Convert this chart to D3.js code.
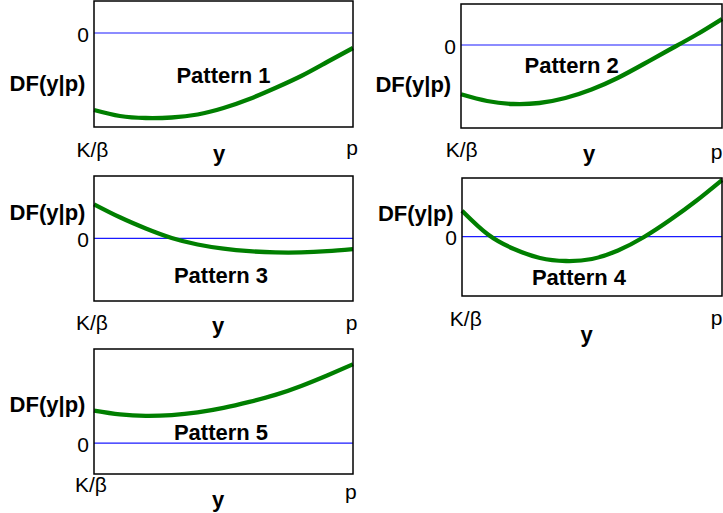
<!DOCTYPE html>
<html>
<head>
<meta charset="utf-8">
<script src="https://cdn.jsdelivr.net/npm/d3@7"></script>
<style>
  html, body { margin: 0; padding: 0; background: #fff; }
  svg { display: block; }
  text { font-family: "Liberation Sans", Arial, Helvetica, sans-serif; fill: #000; }
</style>
</head>
<body>
<svg id="chart" width="723" height="513"></svg>
<script>
// Positions along y, from K/β (0) to p (1)
const yGrid = [0, 0.1, 0.2, 0.3, 0.4, 0.5, 0.6, 0.7, 0.8, 0.9, 1.0];

// DF(y|p) for each pattern, sampled on yGrid (arbitrary units, 0 = blue reference line)
const pattern1 = [-7.7, -8.3, -8.5, -8.45, -8.15, -7.5, -6.6, -5.5, -4.3, -2.9, -1.5];
const pattern2 = [-4.93, -5.6, -5.9, -5.8, -5.3, -4.45, -3.3, -1.9, -0.45, 1.0, 2.6];
const pattern3 = [3.4, 2.1, 0.98, 0.03, -0.62, -1.04, -1.29, -1.41, -1.41, -1.29, -1.09];
const pattern4 = [2.6, 0.22, -1.23, -2.13, -2.43, -2.23, -1.38, -0.03, 1.67, 3.57, 5.67];
const pattern5 = [3.26, 2.88, 2.73, 2.81, 3.08, 3.53, 4.13, 4.83, 5.73, 6.78, 7.9];

// Vertical extent of DF shown in each panel [bottom, top]
const dfExtents = [[-9.4, 3.2], [-8.3, 4.1], [-6.27, 6.23], [-5.93, 5.87], [-3.1, 9.43]];

const patternNames = ["Pattern 1", "Pattern 2", "Pattern 3", "Pattern 4", "Pattern 5"];
const xTickLabels = ["K/β", "p"];
const zeroTick = "0";
const yAxisTitle = "DF(y|p)";
const xAxisTitle = "y";

const series = [pattern1, pattern2, pattern3, pattern4, pattern5];

// Panel layout: plot box and label anchor points
const panels = [
  { box: [94, 1, 353, 127],   df: [47.5, 91],  zero: [89, 41.5],   name: [223.5, 83],  kb: [92.5, 157], xt: [219, 161], p: [352, 155] },
  { box: [461, 4, 722, 128],  df: [413.3, 92], zero: [456, 54],  name: [571.7, 73],  kb: [461.7, 157], xt: [589, 161], p: [716.5, 159] },
  { box: [94, 176, 353, 301], df: [47.5, 220], zero: [89, 247],  name: [221, 283],   kb: [92, 330],   xt: [218, 333], p: [351.7, 330] },
  { box: [462, 178, 722, 296],df: [415.8, 221],zero: [457, 245], name: [579, 285],   kb: [465.8, 325.5], xt: [586.7, 342], p: [716.5, 325] },
  { box: [94, 349, 353, 474], df: [47.5, 411.5], zero: [89, 451.5], name: [221, 440], kb: [91, 491.5], xt: [218, 507], p: [350.8, 499] }
];

const svg = d3.select("#chart");

panels.forEach((pan, i) => {
  const [x0, y0, x1, y1] = pan.box;
  const x = d3.scaleLinear().domain([0, 1]).range([x0, x1]);
  const y = d3.scaleLinear().domain(dfExtents[i]).range([y1, y0]);
  const g = svg.append("g");

  // zero reference line
  g.append("line")
    .attr("x1", x(0)).attr("x2", x(1))
    .attr("y1", y(0)).attr("y2", y(0))
    .attr("stroke", "#1a1aff").attr("stroke-width", 1.2);

  // DF curve
  const line = d3.line()
    .x((d, j) => x(yGrid[j]))
    .y(d => y(d))
    .curve(d3.curveNatural);
  g.append("path")
    .datum(series[i])
    .attr("d", line)
    .attr("fill", "none")
    .attr("stroke", "#007f00")
    .attr("stroke-width", 4.3)
    .attr("stroke-linecap", "butt");

  // plot frame
  g.append("rect")
    .attr("x", x0).attr("y", y0)
    .attr("width", x1 - x0).attr("height", y1 - y0)
    .attr("fill", "none").attr("stroke", "#000").attr("stroke-width", 1.5);

  // labels
  const bold = { size: 22, weight: "bold" };
  const reg = { size: 21, weight: "normal" };
  const label = (txt, pos, st, anchor) => g.append("text")
    .attr("x", pos[0]).attr("y", pos[1])
    .attr("text-anchor", anchor || "middle")
    .attr("font-size", st.size).attr("font-weight", st.weight)
    .text(txt);

  label(yAxisTitle, pan.df, bold);
  label(zeroTick, pan.zero, reg, "end");
  label(patternNames[i], pan.name, bold);
  label(xTickLabels[0], pan.kb, reg);
  label(xAxisTitle, pan.xt, bold);
  label(xTickLabels[1], pan.p, reg);
});
</script>
</body>
</html>
